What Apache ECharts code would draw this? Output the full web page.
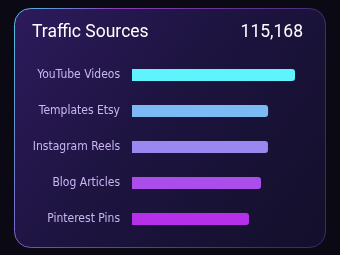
<!DOCTYPE html>
<html>
<head>
<meta charset="utf-8">
<script src="https://cdn.jsdelivr.net/npm/echarts@6/dist/echarts.min.js"></script>
<style>
  html, body { margin: 0; padding: 0; background: #0b0913; }
  #chart { width: 340px; height: 255px; }
</style>
</head>
<body>
<div id="chart"></div>
<script>
// data
var sources = ['YouTube Videos', 'Templates Etsy', 'Instagram Reels', 'Blog Articles', 'Pinterest Pins'];
var visits = [27560, 23010, 22990, 21820, 19788];
var barColors = ['#5ef3fd', '#7cbaf6', '#9a87f0', '#aa4deb', '#b62fe9'];
var totalText = '115,168';

var myChart = echarts.init(document.getElementById('chart'));

var option = {
    backgroundColor: '#0b0913',
    graphic: [
        {
            type: 'rect',
            z: -10,
            shape: { x: 14.5, y: 8.5, width: 311, height: 239, r: 16 },
            style: {
                fill: new echarts.graphic.LinearGradient(0, 0, 1, 1, [
                    { offset: 0, color: '#2d1a5c' },
                    { offset: 0.45, color: '#1d1440' },
                    { offset: 1, color: '#130f2a' }
                ]),
                stroke: new echarts.graphic.LinearGradient(0, 0, 1, 0.4, [
                    { offset: 0, color: '#4fc4e0' },
                    { offset: 0.3, color: '#8a3fb8' },
                    { offset: 1, color: '#3a2a70' }
                ]),
                lineWidth: 1
            }
        },
        {
            type: 'text',
            left: 32,
            top: 24,
            style: {
                text: 'Traffic Sources',
                fill: '#ffffff',
                font: '17.5px Roboto'
            }
        },
        {
            type: 'text',
            right: 37,
            top: 24,
            style: {
                text: totalText,
                fill: '#ffffff',
                font: '17.5px Roboto'
            }
        }
    ],
    grid: { left: 132, right: 45, top: 57, bottom: 18 },
    xAxis: {
        type: 'value',
        min: 0,
        max: visits[0],
        show: false
    },
    yAxis: {
        type: 'category',
        data: sources,
        inverse: true,
        axisLine: { show: false },
        axisTick: { show: false },
        axisLabel: {
            color: '#c8b6f2',
            fontSize: 12,
            fontFamily: 'DejaVu Sans Condensed',
            margin: 12
        }
    },
    series: [{
        type: 'bar',
        data: visits.map(function (v, i) {
            return { value: v, itemStyle: { color: barColors[i] } };
        }),
        barWidth: 12,
        itemStyle: { borderRadius: [0, 3, 3, 0] },
        animation: false
    }]
};

myChart.setOption(option);
</script>
</body>
</html>
